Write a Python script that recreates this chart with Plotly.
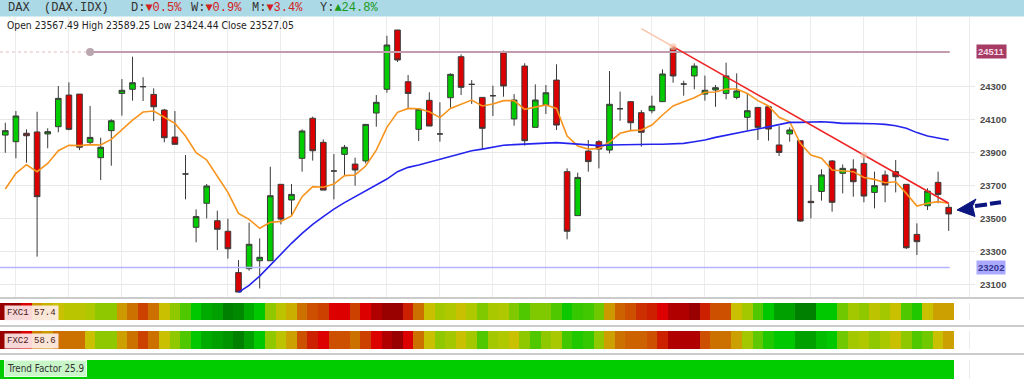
import plotly.graph_objects as go

W, H = 1024, 383


def px(x):
    return x / W


def py(y):
    return 1 - y / H


# ---------------- data ----------------
idx = list(range(90))

open_ = [24006, 23966, 24017, 24025, 24013, 24057, 24249, 24255, 23962, 23869,
         24033, 24259, 24284, 24300, 24253, 24158, 23994, 23770, 23446, 23592,
         23486, 23422, 23171, 23195, 23243, 23243, 23707, 23612, 23865, 24108,
         23962, 23788, 23889, 23830, 23849, 24140, 24284, 24644, 24330, 24041,
         24217, 24013, 24233, 24482, 24314, 24235, 24245, 24506, 24104, 24425,
         24053, 24189, 24340, 23784, 23517, 23909, 23966, 23915, 24166, 24209,
         24142, 24154, 24209, 24533, 24316, 24365, 24255, 24280, 24259, 24235,
         24114, 24174, 24178, 23946, 24013, 23972, 23604, 23664, 23849, 23774,
         23800, 23834, 23658, 23764, 23784, 23707, 23403, 23577, 23719, 23567.49]

close = [24033, 24122, 24002, 23632, 24027, 24229, 24041, 23932, 23992, 23932,
         24093, 24278, 24324, 24300, 24178, 23990, 23950, 23770, 23511, 23697,
         23434, 23316, 23053, 23343, 23264, 23638, 23496, 23646, 24031, 23911,
         23672, 23788, 23932, 23794, 24071, 24205, 24553, 24462, 24259, 24164,
         24061, 24013, 24375, 24296, 24314, 24047, 24245, 24304, 24219, 23972,
         24219, 24263, 24067, 23422, 23749, 23845, 23921, 24193, 24166, 24081,
         24023, 24182, 24377, 24365, 24316, 24425, 24278, 24294, 24365, 24274,
         24154, 24053, 24043, 23901, 24037, 23484, 23596, 23764, 23598, 23804,
         23723, 23636, 23699, 23703, 23753, 23322, 23359, 23666, 23646, 23527.05]

high = [24081, 24152, 24041, 24148, 24047, 24304, 24326, 24255, 24183, 23990,
        24102, 24346, 24482, 24357, 24290, 24165, 24152, 23885, 23555, 23709,
        23547, 23498, 23247, 23474, 23379, 23814, 23707, 23709, 24041, 24118,
        23980, 23891, 23946, 23869, 24071, 24249, 24609, 24644, 24371, 24164,
        24266, 24205, 24381, 24496, 24340, 24235, 24306, 24519, 24255, 24442,
        24314, 24310, 24436, 23804, 23778, 23976, 23976, 24395, 24270, 24213,
        24158, 24245, 24405, 24547, 24336, 24442, 24367, 24310, 24446, 24381,
        24255, 24174, 24178, 24061, 24053, 23972, 23703, 23798, 23855, 23828,
        23859, 23885, 23784, 23790, 23855, 23707, 23470, 23683, 23784, 23589.25]

low = [23899, 23865, 23838, 23268, 23926, 24023, 24035, 23915, 23950, 23733,
       23820, 24124, 24215, 24213, 24091, 23962, 23950, 23616, 23355, 23500,
       23308, 23256, 23053, 23183, 23075, 23243, 23464, 23517, 23784, 23851,
       23672, 23616, 23760, 23699, 23834, 24057, 24263, 24450, 24168, 23970,
       24061, 23966, 24172, 24249, 24195, 23923, 24122, 24239, 24063, 23942,
       24053, 24134, 24037, 23373, 23517, 23784, 23804, 23895, 24093, 24037,
       23936, 24138, 24209, 24324, 24245, 24284, 24215, 24178, 24223, 24223,
       24033, 23976, 23972, 23879, 23966, 23480, 23500, 23608, 23541, 23652,
       23632, 23598, 23561, 23598, 23658, 23314, 23278, 23551, 23592, 23424.44]

ma_fast = [23679, 23774, 23826, 23784, 23834, 23911, 23944, 23942, 23948, 23946,
           23980, 24041, 24097, 24146, 24152, 24114, 24077, 24000, 23899, 23855,
           23753, 23658, 23531, 23494, 23440, 23476, 23482, 23515, 23632, 23693,
           23689, 23709, 23760, 23764, 23818, 23915, 24053, 24144, 24168, 24166,
           24148, 24112, 24168, 24195, 24219, 24183, 24195, 24215, 24215, 24162,
           24174, 24189, 24168, 24000, 23940, 23921, 23925, 23964, 24017, 24033,
           24037, 24067, 24128, 24183, 24209, 24233, 24266, 24268, 24286, 24286,
           24259, 24215, 24183, 24114, 24087, 23956, 23885, 23865, 23794, 23790,
           23784, 23749, 23737, 23717, 23723, 23652, 23575, 23592, 23602, 23592]

ma_slow = [None] * 22 + [
    23051, 23094, 23150, 23217, 23284, 23349, 23409, 23464,
    23511, 23557, 23596, 23632, 23664, 23699, 23739, 23784, 23810, 23824,
    23841, 23859, 23879, 23895, 23911, 23921, 23932, 23944, 23948, 23952,
    23956, 23956, 23960, 23956, 23952, 23946, 23942, 23946, 23948, 23948,
    23950, 23950, 23950, 23952, 23956, 23966, 23976, 23992, 24006, 24017,
    24031, 24043, 24057, 24071, 24083, 24083, 24085, 24087, 24083, 24077,
    24077, 24077, 24075, 24071, 24063, 24047, 24021, 24000, 23986, 23976]

fxc1 = [5, 5, 15, 42, 47, 50, 53, 53, 55, 60,
        60, 42, 35, 28, 35, 50, 60, 68, 80, 85,
        87, 95, 93, 85, 80, 60, 52, 46, 35, 30,
        28, 15, 15, 28, 15, 10, 5, 5, 22, 35,
        50, 57, 55, 50, 55, 62, 56, 55, 62, 68,
        62, 62, 68, 78, 72, 70, 64, 42, 33, 30,
        25, 22, 15, 10, 10, 5, 22, 30, 30, 50,
        57, 68, 80, 87, 87, 95, 95, 80, 80, 64,
        57, 60, 52, 57, 50, 68, 75, 50, 43, 43]

fxc2 = [5, 8, 15, 38, 42, 35, 35, 35, 50, 60,
        60, 43, 35, 28, 35, 50, 60, 68, 80, 85,
        87, 90, 95, 87, 80, 60, 52, 43, 30, 22,
        15, 30, 30, 35, 28, 15, 10, 5, 15, 35,
        50, 60, 57, 50, 57, 68, 57, 55, 50, 60,
        68, 60, 56, 70, 75, 72, 60, 43, 35, 33,
        33, 30, 22, 10, 10, 10, 30, 35, 35, 43,
        57, 66, 75, 80, 80, 87, 87, 82, 80, 64,
        57, 55, 60, 56, 50, 60, 68, 64, 50, 43]

trend_factor = [25.9] * 90

level_hi = 24511
level_lo = 23202
level_hi_start = 8
trend_x = [63, 89]
trend_y = [24543, 23592]
trend_ext_x = [60, 63]
trend_ext_y = [24653, 24543]
touch_x = [63, 81]
touch_y = [24543, 23884]

y_ticks = [23100, 23300, 23500, 23700, 23900, 24100, 24300]

header_name = "DAX  (DAX.IDX)"
header_changes = [("D:", "▼0.5%", "#d42020", 129),
                  ("W:", "▼0.9%", "#d42020", 189),
                  ("M:", "▼3.4%", "#d42020", 250),
                  ("Y:", "▲24.8%", "#1a9a1a", 318)]
ohlc_text = "Open 23567.49 High 23589.25 Low 23424.44 Close 23527.05"
fxc1_label = "FXC1 57.4"
fxc2_label = "FXC2 58.6"
tf_label = "Trend Factor 25.9"

# ---------------- figure ----------------
heat_scale = [
    [0.00, '#8c0000'], [0.05, '#990000'], [0.10, '#b00000'], [0.15, '#dd0000'],
    [0.22, '#cc2000'], [0.28, '#cc4000'], [0.30, '#cc5000'], [0.35, '#cc7000'],
    [0.43, '#cca000'], [0.50, '#c8c000'], [0.55, '#b0c800'], [0.60, '#90c800'],
    [0.68, '#50c800'], [0.75, '#20c800'], [0.80, '#00c800'], [0.87, '#00a000'],
    [0.95, '#008000'], [1.00, '#007000']]

fig = go.Figure()

fig.add_trace(go.Candlestick(
    x=idx, open=open_, high=high, low=low, close=close,
    increasing=dict(fillcolor='#00cc00', line=dict(color='#3a3a3a', width=1)),
    decreasing=dict(fillcolor='#dd0000', line=dict(color='#3a3a3a', width=1)),
    whiskerwidth=0, hoverinfo='skip'))

# level lines
fig.add_trace(go.Scatter(x=[-0.5, level_hi_start], y=[level_hi, level_hi], mode='lines',
                         line=dict(color='#ecd2d2', width=1.5, dash='dot'), hoverinfo='skip'))
fig.add_trace(go.Scatter(x=[level_hi_start, 89.1], y=[level_hi, level_hi], mode='lines',
                         line=dict(color='#c29cac', width=2), hoverinfo='skip'))
fig.add_trace(go.Scatter(x=[level_hi_start], y=[level_hi], mode='markers',
                         marker=dict(color='#b9a6ae', size=8), hoverinfo='skip'))
fig.add_trace(go.Scatter(x=[-0.5, 89.1], y=[level_lo, level_lo], mode='lines',
                         line=dict(color='#b4b4ff', width=1.5), hoverinfo='skip'))

# moving averages
fig.add_trace(go.Scatter(x=idx, y=ma_fast, mode='lines',
                         line=dict(color='#f7941d', width=1.6), hoverinfo='skip'))
fig.add_trace(go.Scatter(x=idx, y=ma_slow, mode='lines',
                         line=dict(color='#2424ee', width=1.6), hoverinfo='skip'))

# trend line
fig.add_trace(go.Scatter(x=trend_ext_x, y=trend_ext_y, mode='lines',
                         line=dict(color='#f9c4ad', width=1.5), hoverinfo='skip'))
fig.add_trace(go.Scatter(x=trend_x, y=trend_y, mode='lines',
                         line=dict(color='#ee2222', width=1.6), hoverinfo='skip'))
fig.add_trace(go.Scatter(x=touch_x, y=touch_y, mode='markers',
                         marker=dict(color='rgba(250,190,160,0.6)', size=7), hoverinfo='skip'))

# indicator strips
fig.add_trace(go.Heatmap(x=idx, y=[0], z=[fxc1], colorscale=heat_scale, zmin=0, zmax=100,
                         showscale=False, xaxis='x', yaxis='y2', hoverinfo='skip'))
fig.add_trace(go.Heatmap(x=idx, y=[0], z=[fxc2], colorscale=heat_scale, zmin=0, zmax=100,
                         showscale=False, xaxis='x', yaxis='y3', hoverinfo='skip'))
fig.add_trace(go.Heatmap(x=idx, y=[0], z=[trend_factor],
                         colorscale=[[0, '#00cc00'], [1, '#00cc00']],
                         showscale=False, xaxis='x', yaxis='y4', hoverinfo='skip'))

x_right = 975
step = 10.6
fig.update_layout(
    width=W, height=H, margin=dict(l=0, r=0, t=0, b=0),
    paper_bgcolor='white', plot_bgcolor='white', showlegend=False,
    boxgap=0.24,
    xaxis=dict(domain=[0, px(x_right)], range=[-0.5, x_right / step - 0.5],
               showticklabels=False, ticks='', tick0=1, dtick=5,
               showgrid=True, gridcolor='#ececec', gridwidth=1, zeroline=False,
               showline=False, rangeslider=dict(visible=False), fixedrange=True),
    yaxis=dict(domain=[py(297), py(17)], range=[23023, 24723], side='right',
               tickvals=y_ticks, ticktext=[str(v) for v in y_ticks], ticks='',
               showgrid=True, gridcolor='#e8e8e8', zeroline=False, showline=False,
               tickfont=dict(family='Liberation Sans, Arial', size=9.5, color='#4a4a4a',
                             weight='bold'),
               ticklabelstandoff=4, fixedrange=True),
    yaxis2=dict(domain=[py(320), py(303)], range=[-0.5, 0.5], visible=False, anchor='x'),
    yaxis3=dict(domain=[py(349), py(331)], range=[-0.5, 0.5], visible=False, anchor='x'),
    yaxis4=dict(domain=[py(379), py(360)], range=[-0.5, 0.5], visible=False, anchor='x'),
)

shapes = []
# header bar
shapes.append(dict(type='rect', xref='paper', yref='paper', x0=0, x1=1, y0=py(16.5), y1=1,
                   fillcolor='#acd9e6', line=dict(width=0), layer='above'))
# separators
for yy in (298, 326, 354):
    shapes.append(dict(type='line', xref='paper', yref='paper', x0=0, x1=1, y0=py(yy), y1=py(yy),
                       line=dict(color='#cbcbcb', width=2)))
# arrow head
head = [(957, 210), (976, 199), (972.5, 206), (975, 216.5)]
path = 'M ' + ' L '.join(f'{px(a):.5f},{py(b):.5f}' for a, b in head) + ' Z'
shapes.append(dict(type='path', xref='paper', yref='paper', path=path,
                   fillcolor='#0b1580', line=dict(color='#0b1580', width=1)))
for (a0, b0, a1, b1) in [(975, 206, 987, 204.5), (990, 203.8, 1001, 202.3)]:
    shapes.append(dict(type='line', xref='paper', yref='paper', x0=px(a0), y0=py(b0),
                       x1=px(a1), y1=py(b1), line=dict(color='#0b1580', width=4)))
fig.update_layout(shapes=shapes)

ann = []
mono = 'Liberation Mono, Courier New, monospace'
sans = 'Liberation Sans, Arial, sans-serif'
narrow = 'Liberation Sans Narrow, DejaVu Sans Condensed, Liberation Sans, Arial'
ann.append(dict(xref='paper', yref='paper', x=px(6), y=py(8.5), xanchor='left', yanchor='middle',
                text=header_name, showarrow=False, font=dict(family=mono, size=12, color='#333333')))
for lab, val, col, xx in header_changes:
    ann.append(dict(xref='paper', yref='paper', x=px(xx), y=py(8.5), xanchor='left', yanchor='middle',
                    text=f"{lab}<span style='color:{col}'>{val}</span>", showarrow=False,
                    font=dict(family=mono, size=12, color='#333333')))
ann.append(dict(xref='paper', yref='paper', x=px(5), y=py(24.5), xanchor='left', yanchor='middle',
                text=ohlc_text, showarrow=False, font=dict(family=narrow, size=10.3, color='#222222')))
# level labels
ann.append(dict(xref='paper', yref='y', x=px(976), y=level_hi, xanchor='left', yanchor='middle',
                text=str(level_hi), showarrow=False, bgcolor='#a63b63', borderpad=1,
                font=dict(family=sans, size=9.5, color='#f4d8e6', weight='bold')))
ann.append(dict(xref='paper', yref='y', x=px(976), y=level_lo, xanchor='left', yanchor='middle',
                text=str(level_lo), showarrow=False, bgcolor='#a9a9ff', borderpad=1,
                font=dict(family=sans, size=9.5, color='#34348c', weight='bold')))
# strip labels
ann.append(dict(xref='paper', yref='paper', x=px(4), y=py(312.5), xanchor='left', yanchor='middle',
                text=fxc1_label, showarrow=False, bgcolor='rgba(255,238,238,0.9)', borderpad=2,
                font=dict(family=mono, size=9, color='#4a1a1a')))
ann.append(dict(xref='paper', yref='paper', x=px(4), y=py(340.5), xanchor='left', yanchor='middle',
                text=fxc2_label, showarrow=False, bgcolor='rgba(255,238,238,0.9)', borderpad=2,
                font=dict(family=mono, size=9, color='#4a1a1a')))
ann.append(dict(xref='paper', yref='paper', x=px(4), y=py(368.5), xanchor='left', yanchor='middle',
                text=tf_label, showarrow=False, bgcolor='#c8f6c8', bordercolor='#e6ffe6', borderpad=2,
                font=dict(family=narrow, size=9.8, color='#333333')))
fig.update_layout(annotations=ann)

fig.write_html("out.html")
